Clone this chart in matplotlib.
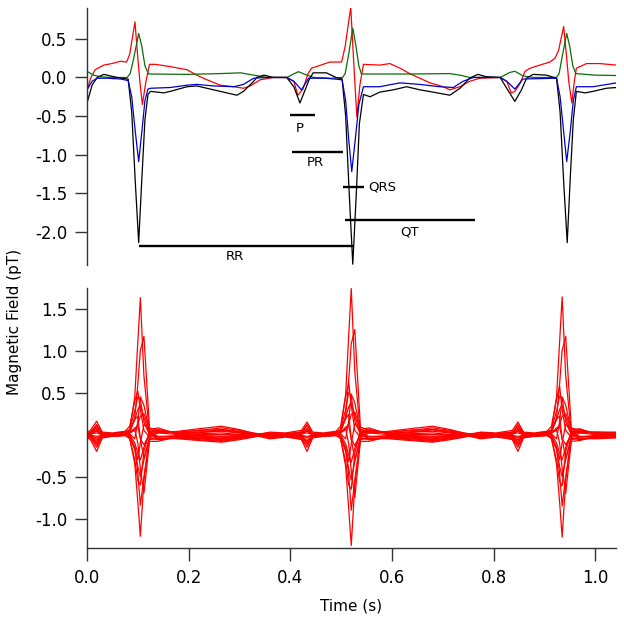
import matplotlib
matplotlib.use("Agg")
import matplotlib.pyplot as plt

plt.rcParams['font.family'] = ['DejaVu Sans']

# ---------------- Top panel traces (time s, field pT) ----------------
black_t = [0.000, 0.010, 0.020, 0.033, 0.046, 0.066, 0.081,
           0.088, 0.095, 0.1017, 0.108, 0.114, 0.120,
           0.125, 0.151, 0.164, 0.197, 0.216, 0.249, 0.275, 0.295, 0.308, 0.328, 0.334, 0.348,
           0.367, 0.393, 0.407, 0.419, 0.430, 0.437, 0.445, 0.471, 0.490, 0.502,
           0.509, 0.516, 0.523, 0.530, 0.536, 0.544,
           0.557, 0.576, 0.603, 0.629, 0.655, 0.681, 0.714, 0.734, 0.753, 0.769, 0.786, 0.813,
           0.826, 0.842, 0.855, 0.865, 0.878, 0.904, 0.924,
           0.931, 0.938, 0.945, 0.951, 0.957, 0.963,
           0.980, 0.996, 1.022, 1.042]
black_v = [-0.33, -0.10, 0.00, 0.04, 0.02, -0.01, -0.02,
           -0.45, -1.35, -2.14, -1.30, -0.55, -0.22,
           -0.18, -0.20, -0.18, -0.12, -0.11, -0.16, -0.20, -0.23, -0.18, -0.05, 0.00, 0.03,
           0.00, 0.00, -0.12, -0.33, -0.15, -0.03, 0.06, 0.06, 0.00, -0.02,
           -0.50, -1.50, -2.42, -1.50, -0.60, -0.22,
           -0.25, -0.19, -0.16, -0.12, -0.16, -0.19, -0.23, -0.14, -0.01, 0.04, 0.01, 0.00,
           -0.14, -0.31, -0.16, -0.01, 0.04, 0.03, -0.01,
           -0.45, -1.35, -2.14, -1.30, -0.55, -0.18,
           -0.20, -0.18, -0.14, -0.13]

blue_t = [0.000, 0.010, 0.020, 0.039, 0.066, 0.081,
          0.088, 0.095, 0.1017, 0.108, 0.114, 0.120,
          0.125, 0.164, 0.197, 0.216, 0.249, 0.289, 0.308, 0.328, 0.354, 0.393,
          0.407, 0.422, 0.436, 0.470, 0.502,
          0.509, 0.515, 0.521, 0.528, 0.535, 0.544,
          0.576, 0.616, 0.655, 0.694, 0.721, 0.740, 0.760, 0.813,
          0.826, 0.842, 0.858, 0.924,
          0.931, 0.938, 0.944, 0.951, 0.957, 0.963,
          0.996, 1.042]
blue_v = [-0.16, -0.05, -0.01, -0.01, -0.02, -0.04,
          -0.25, -0.70, -1.09, -0.70, -0.30, -0.15,
          -0.14, -0.13, -0.10, -0.09, -0.11, -0.12, -0.09, -0.01, 0.00, 0.00,
          -0.05, -0.16, -0.01, -0.01, -0.03,
          -0.30, -0.80, -1.22, -0.80, -0.35, -0.12,
          -0.12, -0.07, -0.09, -0.12, -0.13, -0.05, 0.00, 0.00,
          -0.05, -0.15, -0.02, -0.01,
          -0.25, -0.70, -1.09, -0.70, -0.30, -0.12,
          -0.12, -0.07]

red_t = [0.000, 0.007, 0.016, 0.033, 0.049, 0.066, 0.078,
         0.084, 0.0944, 0.100, 0.104, 0.109, 0.116, 0.123,
         0.135, 0.164, 0.197, 0.216, 0.236, 0.262, 0.289, 0.308, 0.321, 0.341, 0.367, 0.393,
         0.407, 0.415, 0.425, 0.435, 0.442, 0.478, 0.501,
         0.508, 0.519, 0.524, 0.527, 0.531, 0.537, 0.544,
         0.576, 0.596, 0.616, 0.635, 0.655, 0.675, 0.701, 0.714, 0.734, 0.753, 0.773, 0.813,
         0.826, 0.835, 0.842, 0.852, 0.862, 0.872, 0.891, 0.911, 0.921,
         0.928, 0.938, 0.944, 0.948, 0.954, 0.959, 0.963,
         0.983, 1.009, 1.042]
red_v = [-0.17, -0.01, 0.10, 0.16, 0.18, 0.21, 0.20,
         0.30, 0.72, 0.25, -0.05, -0.35, -0.05, 0.17,
         0.17, 0.14, 0.10, 0.03, -0.03, -0.10, -0.12, -0.14, -0.11, -0.03, 0.00, 0.00,
         -0.05, -0.23, -0.15, 0.05, 0.12, 0.20, 0.20,
         0.40, 0.91, 0.30, -0.05, -0.51, -0.10, 0.17,
         0.16, 0.18, 0.12, 0.05, -0.01, -0.07, -0.12, -0.16, -0.12, -0.05, -0.01, 0.00,
         -0.05, -0.20, -0.18, -0.08, 0.08, 0.12, 0.16, 0.20, 0.25,
         0.35, 0.66, 0.25, -0.05, -0.33, -0.05, 0.12,
         0.18, 0.18, 0.16]

green_t = [0.000, 0.013, 0.026, 0.046, 0.079,
           0.085, 0.092, 0.1017, 0.108, 0.114, 0.121,
           0.197, 0.262, 0.302, 0.328, 0.354, 0.393, 0.405, 0.416, 0.433, 0.446, 0.480, 0.503,
           0.508, 0.515, 0.523, 0.529, 0.535, 0.540,
           0.640, 0.714, 0.734, 0.753, 0.813, 0.832, 0.842, 0.858, 0.878, 0.924,
           0.929, 0.936, 0.944, 0.950, 0.956, 0.962,
           1.000, 1.042]
green_v = [0.08, 0.03, 0.01, 0.00, 0.00,
           0.05, 0.25, 0.57, 0.40, 0.15, 0.045,
           0.04, 0.05, 0.06, 0.03, 0.00, 0.00, 0.04, 0.075, 0.03, 0.00, -0.01, 0.00,
           0.05, 0.30, 0.64, 0.42, 0.15, 0.045,
           0.045, 0.05, 0.03, 0.00, 0.00, 0.065, 0.08, 0.02, 0.00, 0.00,
           0.05, 0.30, 0.57, 0.40, 0.15, 0.05,
           0.03, 0.025]

# Interval annotations
interval_names = ["P", "PR", "QRS", "QT", "RR"]
interval_start = [0.399, 0.403, 0.504, 0.508, 0.102]
interval_end = [0.449, 0.503, 0.545, 0.763, 0.523]
interval_level = [-0.48, -0.97, -1.42, -1.85, -2.18]
label_t = [0.418, 0.450, 0.553, 0.634, 0.291]
label_v = [-0.66, -1.10, -1.42, -2.00, -2.32]
label_ha = ["center", "center", "left", "center", "center"]

# ---------------- Bottom panel: butterfly of channels ----------------
t_bot = [0.000, 0.008, 0.019, 0.030, 0.050, 0.075,
         0.084, 0.094, 0.100, 0.105, 0.112, 0.123,
         0.140, 0.180, 0.220, 0.265, 0.300, 0.337, 0.360, 0.390,
         0.422, 0.433, 0.444, 0.465, 0.490,
         0.499, 0.509, 0.515, 0.520, 0.527, 0.538,
         0.555, 0.595, 0.635, 0.680, 0.715, 0.752, 0.775, 0.805,
         0.837, 0.848, 0.859, 0.880, 0.905,
         0.914, 0.924, 0.930, 0.935, 0.942, 0.953,
         0.970, 1.000, 1.040]

ch01 = [0.00, 0.03, 0.10, 0.02, 0.01, 0.03,
        0.05, 0.45, 1.10, 1.63, 0.70, 0.02,
        0.04, 0.02, 0.03, 0.06, 0.03, 0.00, 0.02, 0.01,
        0.03, 0.11, 0.02, 0.01, 0.03,
        0.05, 0.48, 1.18, 1.74, 0.75, 0.02,
        0.04, 0.02, 0.03, 0.06, 0.03, 0.00, 0.02, 0.01,
        0.03, 0.10, 0.02, 0.01, 0.03,
        0.05, 0.45, 1.10, 1.64, 0.70, 0.02,
        0.04, 0.02, 0.02]
ch02 = [-0.01, -0.02, -0.06, -0.01, 0.00, 0.02,
        0.03, 0.20, 0.60, 1.00, 1.17, 0.08,
        0.05, 0.01, 0.02, 0.05, 0.02, -0.01, 0.00, -0.01,
        -0.02, -0.07, -0.01, 0.00, 0.02,
        0.03, 0.22, 0.65, 1.08, 1.25, 0.09,
        0.05, 0.01, 0.02, 0.06, 0.02, -0.01, 0.00, -0.01,
        -0.02, -0.06, -0.01, 0.00, 0.02,
        0.03, 0.20, 0.60, 1.00, 1.17, 0.08,
        0.05, 0.01, 0.01]
ch03 = [0.02, 0.06, 0.16, 0.03, 0.02, 0.04,
        0.10, 0.40, 0.52, 0.30, 0.05, -0.03,
        0.02, 0.04, 0.07, 0.10, 0.06, 0.00, 0.03, 0.02,
        0.05, 0.15, 0.03, 0.02, 0.04,
        0.10, 0.45, 0.62, 0.35, 0.05, -0.03,
        0.02, 0.04, 0.07, 0.10, 0.06, 0.00, 0.03, 0.02,
        0.05, 0.15, 0.03, 0.02, 0.04,
        0.10, 0.42, 0.58, 0.30, 0.05, -0.03,
        0.02, 0.03, 0.03]
ch04 = [0.01, 0.03, 0.08, 0.01, 0.01, 0.03,
        0.06, 0.28, 0.45, 0.42, 0.15, 0.00,
        0.03, 0.03, 0.05, 0.08, 0.05, 0.01, 0.02, 0.01,
        0.03, 0.08, 0.01, 0.01, 0.03,
        0.06, 0.30, 0.50, 0.46, 0.16, 0.00,
        0.03, 0.03, 0.05, 0.08, 0.05, 0.01, 0.02, 0.01,
        0.03, 0.08, 0.01, 0.01, 0.03,
        0.06, 0.28, 0.46, 0.43, 0.15, 0.00,
        0.03, 0.02, 0.02]
ch05 = [0.00, 0.04, 0.12, 0.02, 0.00, 0.02,
        0.04, 0.18, 0.30, 0.35, 0.20, 0.02,
        0.06, 0.02, 0.03, 0.04, 0.02, -0.01, 0.01, 0.00,
        0.02, 0.12, 0.02, 0.00, 0.02,
        0.04, 0.20, 0.33, 0.38, 0.22, 0.02,
        0.06, 0.02, 0.03, 0.04, 0.02, -0.01, 0.01, 0.00,
        0.02, 0.12, 0.02, 0.00, 0.02,
        0.04, 0.18, 0.30, 0.35, 0.20, 0.02,
        0.06, 0.02, 0.01]
ch06 = [-0.02, 0.00, 0.05, -0.01, -0.01, 0.01,
        0.02, 0.05, 0.12, 0.22, 0.25, 0.06,
        0.08, 0.00, 0.01, 0.02, 0.00, -0.02, -0.01, -0.02,
        0.00, 0.05, -0.01, -0.01, 0.01,
        0.02, 0.06, 0.13, 0.24, 0.27, 0.06,
        0.08, 0.00, 0.01, 0.02, 0.00, -0.02, -0.01, -0.02,
        0.00, 0.05, -0.01, -0.01, 0.01,
        0.02, 0.05, 0.12, 0.22, 0.25, 0.06,
        0.07, 0.00, -0.01]
ch07 = [0.00, 0.01, 0.02, 0.00, 0.00, 0.01,
        0.02, 0.08, 0.10, -0.05, -0.12, 0.00,
        -0.03, -0.01, -0.01, -0.02, -0.01, 0.00, -0.01, 0.00,
        0.01, 0.02, 0.00, 0.00, 0.01,
        0.02, 0.09, 0.11, -0.05, -0.13, 0.00,
        -0.03, -0.01, -0.01, -0.02, -0.01, 0.00, -0.01, 0.00,
        0.01, 0.02, 0.00, 0.00, 0.01,
        0.02, 0.08, 0.10, -0.05, -0.12, 0.00,
        -0.03, -0.01, 0.00]
ch08 = [0.00, -0.01, -0.04, 0.00, 0.00, 0.01,
        0.00, -0.10, -0.22, -0.30, -0.15, 0.02,
        -0.02, -0.02, -0.03, -0.04, -0.02, 0.00, -0.02, -0.01,
        -0.01, -0.04, 0.00, 0.00, 0.01,
        0.00, -0.11, -0.24, -0.33, -0.16, 0.02,
        -0.02, -0.02, -0.03, -0.04, -0.02, 0.00, -0.02, -0.01,
        -0.01, -0.04, 0.00, 0.00, 0.01,
        0.00, -0.10, -0.22, -0.30, -0.15, 0.02,
        -0.02, -0.02, -0.01]
ch09 = [-0.02, -0.03, -0.08, -0.02, -0.02, -0.01,
        -0.03, -0.18, -0.38, -0.50, -0.30, -0.04,
        -0.05, -0.03, -0.04, -0.06, -0.04, -0.01, -0.03, -0.02,
        -0.03, -0.08, -0.02, -0.02, -0.01,
        -0.03, -0.20, -0.41, -0.54, -0.32, -0.04,
        -0.05, -0.03, -0.04, -0.06, -0.04, -0.01, -0.03, -0.02,
        -0.03, -0.08, -0.02, -0.02, -0.01,
        -0.03, -0.18, -0.38, -0.50, -0.30, -0.04,
        -0.05, -0.03, -0.03]
ch10 = [-0.01, -0.04, -0.12, -0.02, -0.01, 0.00,
        -0.05, -0.30, -0.55, -0.60, -0.20, 0.03,
        -0.06, -0.04, -0.06, -0.08, -0.05, -0.01, -0.04, -0.02,
        -0.04, -0.12, -0.02, -0.01, 0.00,
        -0.05, -0.32, -0.60, -0.65, -0.22, 0.03,
        -0.06, -0.04, -0.06, -0.08, -0.05, -0.01, -0.04, -0.02,
        -0.04, -0.12, -0.02, -0.01, 0.00,
        -0.05, -0.30, -0.56, -0.61, -0.20, 0.03,
        -0.06, -0.04, -0.03]
ch11 = [-0.02, -0.05, -0.15, -0.03, -0.02, -0.01,
        -0.03, -0.15, -0.45, -0.84, -0.50, -0.06,
        -0.04, -0.05, -0.07, -0.09, -0.06, -0.02, -0.05, -0.03,
        -0.05, -0.15, -0.03, -0.02, -0.01,
        -0.03, -0.16, -0.48, -0.90, -0.54, -0.06,
        -0.04, -0.05, -0.07, -0.09, -0.06, -0.02, -0.05, -0.03,
        -0.05, -0.15, -0.03, -0.02, -0.01,
        -0.03, -0.15, -0.46, -0.85, -0.50, -0.06,
        -0.04, -0.05, -0.04]
ch12 = [-0.03, -0.07, -0.20, -0.04, -0.02, -0.01,
        -0.04, -0.35, -0.80, -1.21, -0.55, 0.00,
        -0.05, -0.04, -0.05, -0.07, -0.04, -0.01, -0.03, -0.02,
        -0.06, -0.20, -0.04, -0.02, -0.01,
        -0.04, -0.38, -0.88, -1.32, -0.60, 0.00,
        -0.05, -0.04, -0.05, -0.07, -0.04, -0.01, -0.03, -0.02,
        -0.06, -0.20, -0.04, -0.02, -0.01,
        -0.04, -0.35, -0.80, -1.22, -0.55, 0.00,
        -0.05, -0.04, -0.03]
ch13 = [0.01, 0.02, 0.06, 0.01, 0.01, 0.02,
        -0.02, -0.15, -0.30, -0.10, 0.12, 0.06,
        0.03, 0.03, 0.05, 0.06, 0.04, 0.00, 0.02, 0.01,
        0.02, 0.06, 0.01, 0.01, 0.02,
        -0.02, -0.16, -0.32, -0.11, 0.13, 0.06,
        0.03, 0.03, 0.05, 0.06, 0.04, 0.00, 0.02, 0.01,
        0.02, 0.06, 0.01, 0.01, 0.02,
        -0.02, -0.15, -0.30, -0.10, 0.12, 0.06,
        0.03, 0.03, 0.02]
ch14 = [0.01, -0.03, -0.10, 0.00, 0.01, 0.02,
        0.03, 0.06, -0.10, -0.40, -0.70, -0.08,
        -0.08, -0.02, -0.02, -0.03, -0.02, 0.01, -0.01, 0.00,
        -0.02, -0.10, 0.00, 0.01, 0.02,
        0.03, 0.07, -0.11, -0.43, -0.75, -0.08,
        -0.08, -0.02, -0.02, -0.03, -0.02, 0.01, -0.01, 0.00,
        -0.02, -0.10, 0.00, 0.01, 0.02,
        0.03, 0.06, -0.10, -0.40, -0.70, -0.08,
        -0.07, -0.02, -0.01]
ch15 = [0.00, 0.01, 0.04, 0.00, 0.00, 0.01,
        0.01, -0.05, 0.15, 0.45, 0.35, 0.04,
        0.02, 0.00, 0.00, 0.00, 0.00, 0.00, 0.00, 0.00,
        0.01, 0.04, 0.00, 0.00, 0.01,
        0.01, -0.05, 0.16, 0.48, 0.38, 0.04,
        0.02, 0.00, 0.00, 0.00, 0.00, 0.00, 0.00, 0.00,
        0.01, 0.04, 0.00, 0.00, 0.01,
        0.01, -0.05, 0.15, 0.45, 0.35, 0.04,
        0.02, 0.00, 0.00]
ch16 = [-0.01, -0.01, -0.02, -0.01, -0.01, 0.00,
        0.04, 0.18, 0.22, -0.05, -0.28, -0.04,
        -0.06, -0.03, -0.04, -0.05, -0.03, 0.00, -0.02, -0.01,
        -0.01, -0.02, -0.01, -0.01, 0.00,
        0.04, 0.19, 0.24, -0.05, -0.30, -0.04,
        -0.06, -0.03, -0.04, -0.05, -0.03, 0.00, -0.02, -0.01,
        -0.01, -0.02, -0.01, -0.01, 0.00,
        0.04, 0.18, 0.22, -0.05, -0.28, -0.04,
        -0.06, -0.03, -0.02]
channels = [ch01, ch02, ch03, ch04, ch05, ch06, ch07, ch08,
            ch09, ch10, ch11, ch12, ch13, ch14, ch15, ch16]

top_yticks = [0.5, 0.0, -0.5, -1.0, -1.5, -2.0]
bot_yticks = [1.5, 1.0, 0.5, -0.5, -1.0]
xticks = [0.0, 0.2, 0.4, 0.6, 0.8, 1.0]

# ---------------- Figure ----------------
W, H = 624, 620
fig = plt.figure(figsize=(W / 100, H / 100), dpi=100)
left = 87 / W
width = (616 - 87) / W
ax1 = fig.add_axes([left, 1 - 265 / H, width, (265 - 8) / H])
ax2 = fig.add_axes([left, 1 - 548.3 / H, width, (548.3 - 288) / H])

spine_col = '#333333'
lw = 0.9
ax1.plot(red_t, red_v, color='#ff0000', lw=lw)
ax1.plot(green_t, green_v, color='#0a6e0a', lw=lw)
ax1.plot(black_t, black_v, color='black', lw=lw)
ax1.plot(blue_t, blue_v, color='#0000c8', lw=lw)

for name, t0, t1, lev, lt, lv, ha in zip(interval_names, interval_start, interval_end,
                                        interval_level, label_t, label_v, label_ha):
    ax1.plot([t0, t1], [lev, lev], color='black', lw=1.7, solid_capstyle='butt')
    ax1.text(lt, lv, name, ha=ha, va='center', fontsize=9.5)

ax1.set_xlim(0, 1.041)
ax1.set_ylim(-2.43, 0.90)
ax1.set_yticks(top_yticks)
ax1.set_yticklabels([f"{v:.1f}" for v in top_yticks])
ax1.set_xticks([])
for s in ['top', 'right', 'bottom']:
    ax1.spines[s].set_visible(False)

for ch in channels:
    ax2.plot(t_bot, ch, color='#ff0000', lw=0.9)

ax2.set_xlim(0, 1.041)
ax2.set_ylim(-1.353, 1.745)
ax2.set_yticks(bot_yticks)
ax2.set_yticklabels([f"{v:.1f}" for v in bot_yticks])
ax2.set_xticks(xticks)
ax2.set_xticklabels([f"{v:.1f}" for v in xticks])
for s in ['top', 'right']:
    ax2.spines[s].set_visible(False)

for ax in (ax1, ax2):
    for s in ['left', 'bottom']:
        ax.spines[s].set_color(spine_col)
        ax.spines[s].set_linewidth(1.0)
    ax.tick_params(axis='both', direction='out', length=9, width=1.0,
                   color=spine_col, labelsize=12, pad=5)
    ax.patch.set_alpha(0)
ax2.tick_params(axis='x', pad=6)

ax2.set_xlabel("Time (s)", fontsize=11, labelpad=8)
fig.text(15 / W, 1 - 322 / H, "Magnetic Field (pT)", rotation=90,
         ha='center', va='center', fontsize=11)

fig.savefig("out.png", dpi=100)
